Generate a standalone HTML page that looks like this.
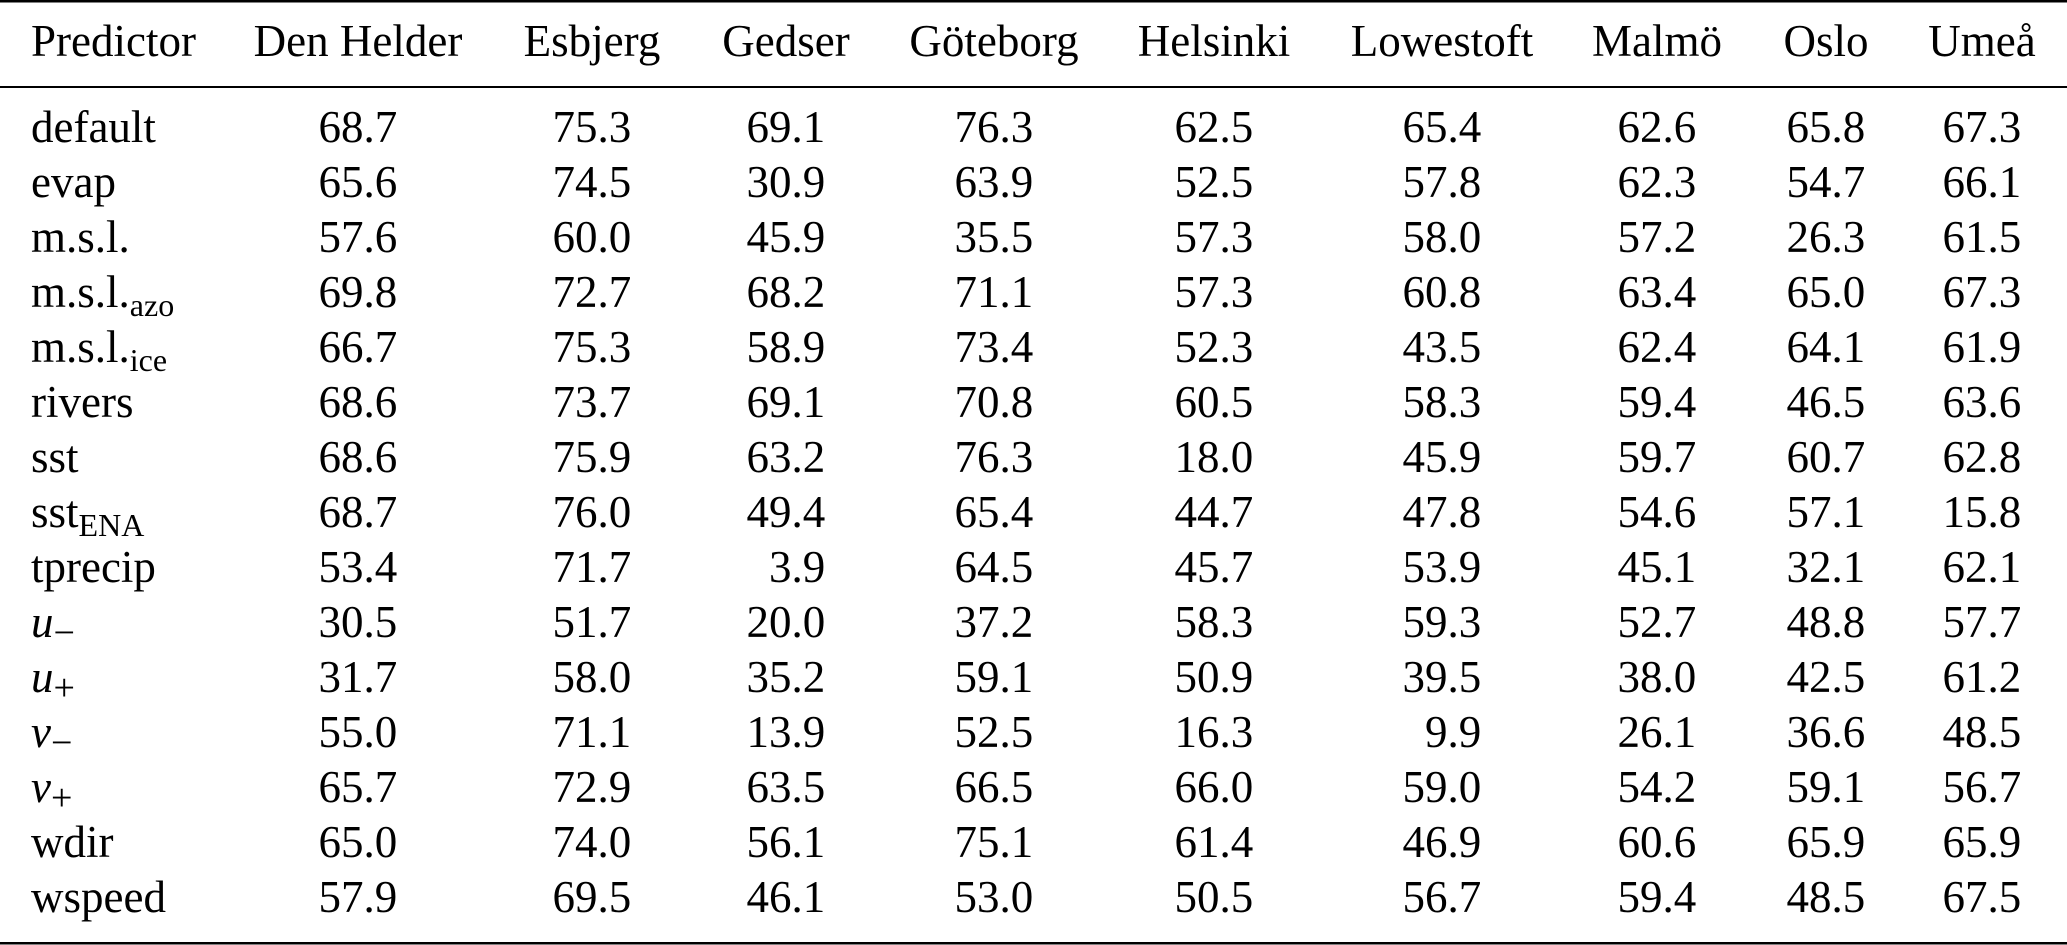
<!DOCTYPE html>
<html><head><meta charset="utf-8"><style>
html,body{margin:0;padding:0;background:#fff;}
svg{display:block;}
text{font-family:"Liberation Serif","Times New Roman",serif;font-size:45px;fill:#000;}
.n{text-anchor:end;}
.h{text-anchor:middle;}
.s{font-size:32px;}
.m{font-size:38px;}
</style></head><body>
<svg width="2067" height="945" viewBox="0 0 2067 945">
<rect x="0" y="0" width="2067" height="2.5" fill="#000"/>
<rect x="0" y="86" width="2067" height="2" fill="#000"/>
<rect x="0" y="942" width="2067" height="2.5" fill="#000"/>
<g>
<text x="31" y="56">Predictor</text>
<text class="h" x="358" y="56">Den Helder</text>
<text class="h" x="592" y="56">Esbjerg</text>
<text class="h" x="786" y="56">Gedser</text>
<text class="h" x="994" y="56">Göteborg</text>
<text class="h" x="1214" y="56">Helsinki</text>
<text class="h" x="1442" y="56">Lowestoft</text>
<text class="h" x="1657" y="56">Malmö</text>
<text class="h" x="1826" y="56">Oslo</text>
<text class="h" x="1982" y="56">Umeå</text>
</g>
<g transform="translate(0,142)">
<text x="31" y="0">default</text>
<text class="n" x="397.2" y="0">68.7</text><text class="n" x="631.2" y="0">75.3</text><text class="n" x="825.2" y="0">69.1</text><text class="n" x="1033.2" y="0">76.3</text><text class="n" x="1253.2" y="0">62.5</text><text class="n" x="1481.2" y="0">65.4</text><text class="n" x="1696.2" y="0">62.6</text><text class="n" x="1865.2" y="0">65.8</text><text class="n" x="2021.2" y="0">67.3</text>
</g>
<g transform="translate(0,197)">
<text x="31" y="0">evap</text>
<text class="n" x="397.2" y="0">65.6</text><text class="n" x="631.2" y="0">74.5</text><text class="n" x="825.2" y="0">30.9</text><text class="n" x="1033.2" y="0">63.9</text><text class="n" x="1253.2" y="0">52.5</text><text class="n" x="1481.2" y="0">57.8</text><text class="n" x="1696.2" y="0">62.3</text><text class="n" x="1865.2" y="0">54.7</text><text class="n" x="2021.2" y="0">66.1</text>
</g>
<g transform="translate(0,252)">
<text x="31" y="0">m.s.l.</text>
<text class="n" x="397.2" y="0">57.6</text><text class="n" x="631.2" y="0">60.0</text><text class="n" x="825.2" y="0">45.9</text><text class="n" x="1033.2" y="0">35.5</text><text class="n" x="1253.2" y="0">57.3</text><text class="n" x="1481.2" y="0">58.0</text><text class="n" x="1696.2" y="0">57.2</text><text class="n" x="1865.2" y="0">26.3</text><text class="n" x="2021.2" y="0">61.5</text>
</g>
<g transform="translate(0,307)">
<text x="31" y="0">m.s.l.<tspan class="s" dy="9">azo</tspan></text>
<text class="n" x="397.2" y="0">69.8</text><text class="n" x="631.2" y="0">72.7</text><text class="n" x="825.2" y="0">68.2</text><text class="n" x="1033.2" y="0">71.1</text><text class="n" x="1253.2" y="0">57.3</text><text class="n" x="1481.2" y="0">60.8</text><text class="n" x="1696.2" y="0">63.4</text><text class="n" x="1865.2" y="0">65.0</text><text class="n" x="2021.2" y="0">67.3</text>
</g>
<g transform="translate(0,362)">
<text x="31" y="0">m.s.l.<tspan class="s" dy="9">ice</tspan></text>
<text class="n" x="397.2" y="0">66.7</text><text class="n" x="631.2" y="0">75.3</text><text class="n" x="825.2" y="0">58.9</text><text class="n" x="1033.2" y="0">73.4</text><text class="n" x="1253.2" y="0">52.3</text><text class="n" x="1481.2" y="0">43.5</text><text class="n" x="1696.2" y="0">62.4</text><text class="n" x="1865.2" y="0">64.1</text><text class="n" x="2021.2" y="0">61.9</text>
</g>
<g transform="translate(0,417)">
<text x="31" y="0">rivers</text>
<text class="n" x="397.2" y="0">68.6</text><text class="n" x="631.2" y="0">73.7</text><text class="n" x="825.2" y="0">69.1</text><text class="n" x="1033.2" y="0">70.8</text><text class="n" x="1253.2" y="0">60.5</text><text class="n" x="1481.2" y="0">58.3</text><text class="n" x="1696.2" y="0">59.4</text><text class="n" x="1865.2" y="0">46.5</text><text class="n" x="2021.2" y="0">63.6</text>
</g>
<g transform="translate(0,472)">
<text x="31" y="0">sst</text>
<text class="n" x="397.2" y="0">68.6</text><text class="n" x="631.2" y="0">75.9</text><text class="n" x="825.2" y="0">63.2</text><text class="n" x="1033.2" y="0">76.3</text><text class="n" x="1253.2" y="0">18.0</text><text class="n" x="1481.2" y="0">45.9</text><text class="n" x="1696.2" y="0">59.7</text><text class="n" x="1865.2" y="0">60.7</text><text class="n" x="2021.2" y="0">62.8</text>
</g>
<g transform="translate(0,527)">
<text x="31" y="0">sst<tspan class="s" dy="9">ENA</tspan></text>
<text class="n" x="397.2" y="0">68.7</text><text class="n" x="631.2" y="0">76.0</text><text class="n" x="825.2" y="0">49.4</text><text class="n" x="1033.2" y="0">65.4</text><text class="n" x="1253.2" y="0">44.7</text><text class="n" x="1481.2" y="0">47.8</text><text class="n" x="1696.2" y="0">54.6</text><text class="n" x="1865.2" y="0">57.1</text><text class="n" x="2021.2" y="0">15.8</text>
</g>
<g transform="translate(0,582)">
<text x="31" y="0">tprecip</text>
<text class="n" x="397.2" y="0">53.4</text><text class="n" x="631.2" y="0">71.7</text><text class="n" x="825.2" y="0">3.9</text><text class="n" x="1033.2" y="0">64.5</text><text class="n" x="1253.2" y="0">45.7</text><text class="n" x="1481.2" y="0">53.9</text><text class="n" x="1696.2" y="0">45.1</text><text class="n" x="1865.2" y="0">32.1</text><text class="n" x="2021.2" y="0">62.1</text>
</g>
<g transform="translate(0,637)">
<text x="31" y="0"><tspan font-style="italic">u</tspan><tspan class="m" dy="8">−</tspan></text>
<text class="n" x="397.2" y="0">30.5</text><text class="n" x="631.2" y="0">51.7</text><text class="n" x="825.2" y="0">20.0</text><text class="n" x="1033.2" y="0">37.2</text><text class="n" x="1253.2" y="0">58.3</text><text class="n" x="1481.2" y="0">59.3</text><text class="n" x="1696.2" y="0">52.7</text><text class="n" x="1865.2" y="0">48.8</text><text class="n" x="2021.2" y="0">57.7</text>
</g>
<g transform="translate(0,692)">
<text x="31" y="0"><tspan font-style="italic">u</tspan><tspan class="m" dy="8">+</tspan></text>
<text class="n" x="397.2" y="0">31.7</text><text class="n" x="631.2" y="0">58.0</text><text class="n" x="825.2" y="0">35.2</text><text class="n" x="1033.2" y="0">59.1</text><text class="n" x="1253.2" y="0">50.9</text><text class="n" x="1481.2" y="0">39.5</text><text class="n" x="1696.2" y="0">38.0</text><text class="n" x="1865.2" y="0">42.5</text><text class="n" x="2021.2" y="0">61.2</text>
</g>
<g transform="translate(0,747)">
<text x="31" y="0"><tspan font-style="italic">v</tspan><tspan class="m" dy="8">−</tspan></text>
<text class="n" x="397.2" y="0">55.0</text><text class="n" x="631.2" y="0">71.1</text><text class="n" x="825.2" y="0">13.9</text><text class="n" x="1033.2" y="0">52.5</text><text class="n" x="1253.2" y="0">16.3</text><text class="n" x="1481.2" y="0">9.9</text><text class="n" x="1696.2" y="0">26.1</text><text class="n" x="1865.2" y="0">36.6</text><text class="n" x="2021.2" y="0">48.5</text>
</g>
<g transform="translate(0,802)">
<text x="31" y="0"><tspan font-style="italic">v</tspan><tspan class="m" dy="8">+</tspan></text>
<text class="n" x="397.2" y="0">65.7</text><text class="n" x="631.2" y="0">72.9</text><text class="n" x="825.2" y="0">63.5</text><text class="n" x="1033.2" y="0">66.5</text><text class="n" x="1253.2" y="0">66.0</text><text class="n" x="1481.2" y="0">59.0</text><text class="n" x="1696.2" y="0">54.2</text><text class="n" x="1865.2" y="0">59.1</text><text class="n" x="2021.2" y="0">56.7</text>
</g>
<g transform="translate(0,857)">
<text x="31" y="0">wdir</text>
<text class="n" x="397.2" y="0">65.0</text><text class="n" x="631.2" y="0">74.0</text><text class="n" x="825.2" y="0">56.1</text><text class="n" x="1033.2" y="0">75.1</text><text class="n" x="1253.2" y="0">61.4</text><text class="n" x="1481.2" y="0">46.9</text><text class="n" x="1696.2" y="0">60.6</text><text class="n" x="1865.2" y="0">65.9</text><text class="n" x="2021.2" y="0">65.9</text>
</g>
<g transform="translate(0,912)">
<text x="31" y="0">wspeed</text>
<text class="n" x="397.2" y="0">57.9</text><text class="n" x="631.2" y="0">69.5</text><text class="n" x="825.2" y="0">46.1</text><text class="n" x="1033.2" y="0">53.0</text><text class="n" x="1253.2" y="0">50.5</text><text class="n" x="1481.2" y="0">56.7</text><text class="n" x="1696.2" y="0">59.4</text><text class="n" x="1865.2" y="0">48.5</text><text class="n" x="2021.2" y="0">67.5</text>
</g>
</svg>
</body></html>
